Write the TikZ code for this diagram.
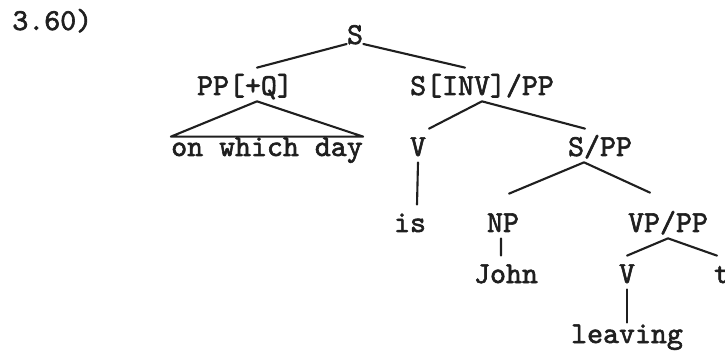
\documentclass[tikz,border=0pt]{standalone}
\usepackage{fontspec}
\setmainfont{lmmono10-regular.otf}[FakeBold=2]
\usepackage{tikz}
\usetikzlibrary{calc}
\colorlet{inkcol}{black!88}

\begin{document}
\begin{tikzpicture}[cat/.style={anchor=base, inner xsep=0pt, inner ysep=0.12cm, text height=0.42cm, text depth=0pt, text=inkcol, font=\fontsize{17.3pt}{20pt}\selectfont},
    branch/.style={draw=inkcol, line width=1.2pt, line cap=round, line join=round}]
    \useasboundingbox (0,0) rectangle (14.5,-7.08);
    \node[cat, anchor=base west] (ex) at (0.24,-0.60) {3.60)};
    \node[cat] (s) at (7.10,-0.88) {S};
    \node[cat] (ppq) at (4.90,-1.90) {PP[+Q]};
    \node[cat] (sinv) at (9.64,-1.90) {S[INV]/PP};
    \node[cat] (day) at (5.34,-3.12) {on which day};
    \node[cat] (v) at (8.36,-3.12) {V};
    \node[cat] (spp) at (12.00,-3.12) {S/PP};
    \node[cat] (is) at (8.20,-4.64) {is};
    \node[cat] (np) at (10.06,-4.64) {NP};
    \node[cat] (vpp) at (13.36,-4.64) {VP/PP};
    \node[cat] (john) at (10.12,-5.66) {John};
    \node[cat] (vb) at (12.54,-5.66) {V};
    \node[cat] (tr) at (14.44,-5.66) {t};
    \node[cat] (leaving) at (12.54,-6.86) {leaving};
    \draw[branch] (s.base west) -- ([xshift=0.24cm]ppq.north);
    \draw[branch] (s.base east) -- ([xshift=-0.34cm]sinv.north);
    \draw[branch] ([xshift=0.24cm]ppq.south) -- ([yshift=-0.16cm]day.north west) -- ([yshift=-0.16cm]day.north east) -- cycle;
    \draw[branch] ([xshift=0.22cm]v.north) -- (sinv.south) -- ([xshift=-0.30cm]spp.north);
    \draw[branch] (v.south) -- ([xshift=0.14cm]is.north);
    \draw[branch] ([xshift=0.12cm,yshift=0.22cm]np.north) -- ([xshift=-0.32cm]spp.south) -- ([xshift=-0.36cm,yshift=0.24cm]vpp.north);
    \draw[branch] ([xshift=-0.04cm]np.south) -- ([xshift=-0.10cm]john.north);
    \draw[branch] (vb.north) -- (vpp.south) -- ([xshift=-0.10cm]tr.north);
    \draw[branch] (vb.south) -- ([yshift=-0.14cm]leaving.north);
  \end{tikzpicture}
\end{document}
